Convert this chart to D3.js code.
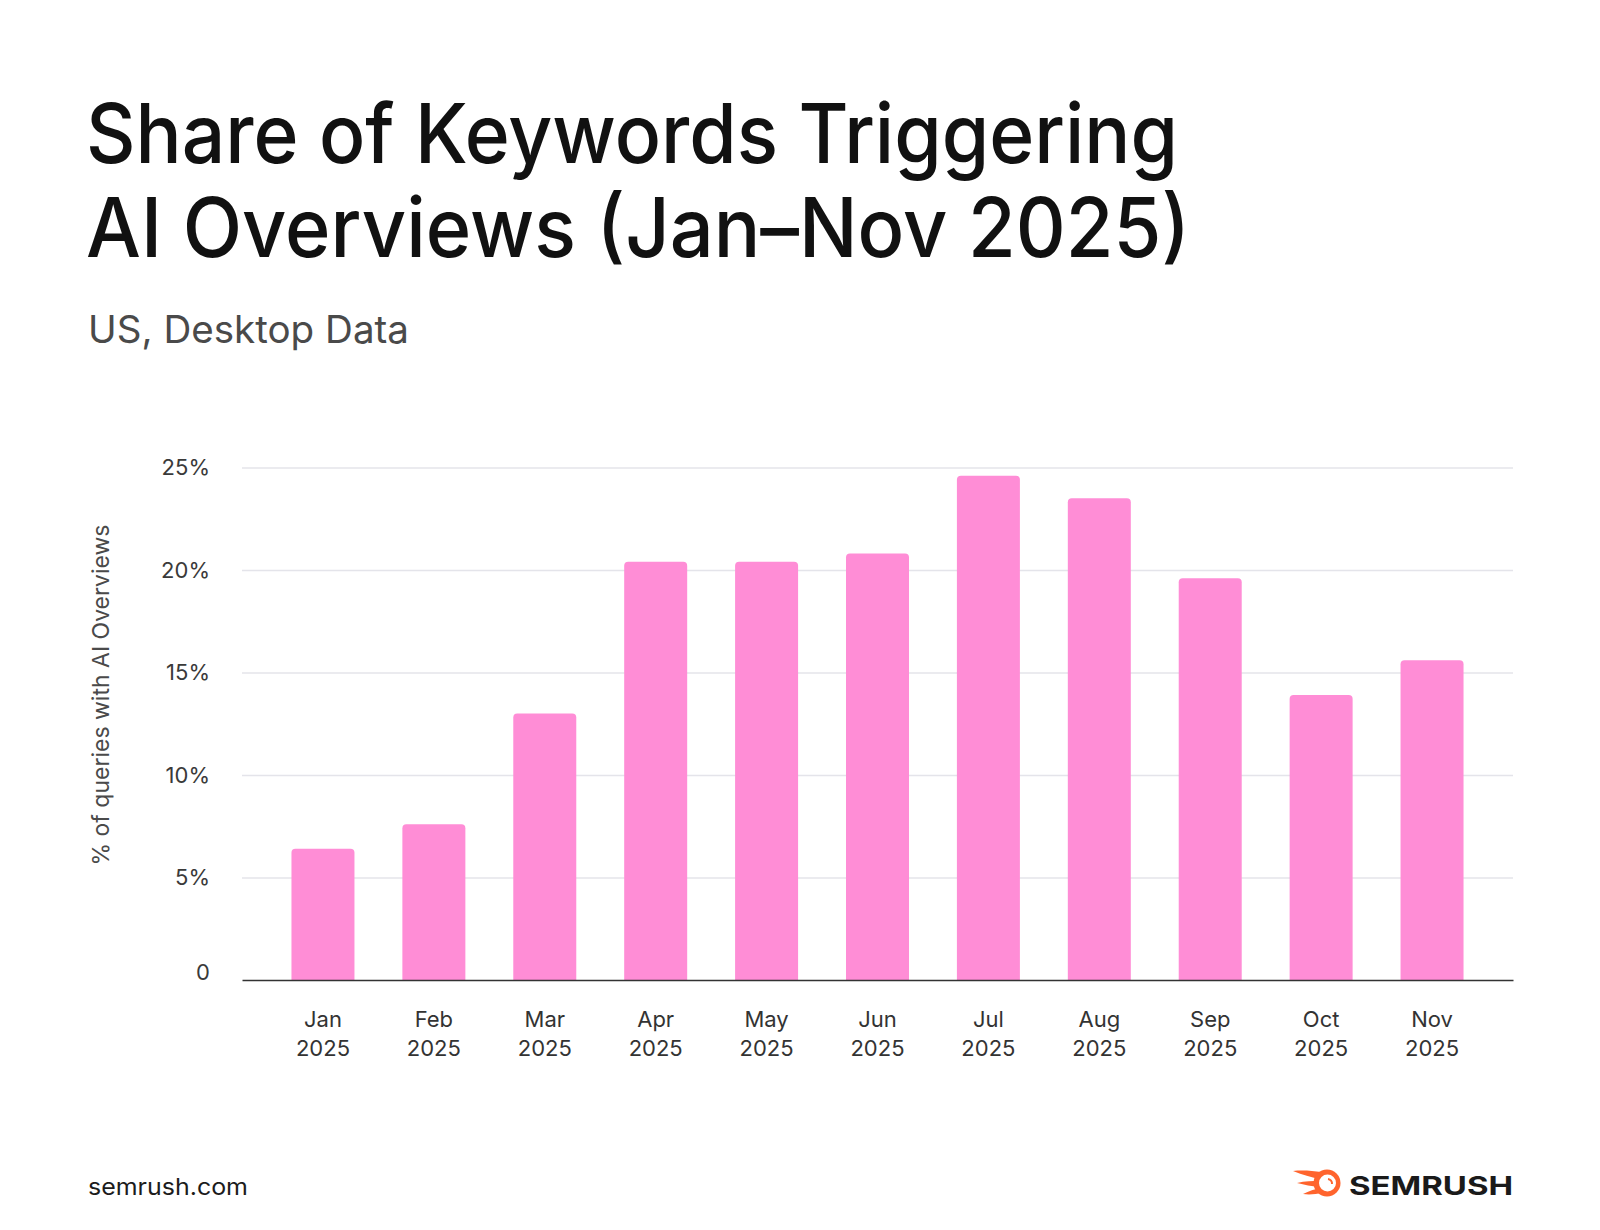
<!DOCTYPE html>
<html>
<head>
<meta charset="utf-8">
<script src="https://cdn.jsdelivr.net/npm/d3@7"></script>
<style>
  body { margin: 0; background: #fff; }
  svg { display: block; font-family: Inter, "Noto Sans", sans-serif; }
</style>
</head>
<body>
<svg id="chart"></svg>
<script>
// data
var months = ["Jan", "Feb", "Mar", "Apr", "May", "Jun", "Jul", "Aug", "Sep", "Oct", "Nov"];
var year = "2025";
var shares = [6.4, 7.6, 13.0, 20.4, 20.4, 20.8, 24.6, 23.5, 19.6, 13.9, 15.6];
var yTicks = [0, 5, 10, 15, 20, 25];

var svgWidth = 1600, svgHeight = 1230;
var plotLeft = 242, plotRight = 1513, plotTop = 467.5, plotBottom = 980;

var svg = d3.select('#chart').attr('width', svgWidth).attr('height', svgHeight);

// titles
svg.append('text').attr('x', 86).attr('y', 163)
    .attr('font-size', 82).attr('font-weight', 500).attr('fill', '#111')
    .attr('textLength', 1092).attr('lengthAdjust', 'spacingAndGlyphs')
    .text('Share of Keywords Triggering');
svg.append('text').attr('x', 86).attr('y', 257)
    .attr('font-size', 82).attr('font-weight', 500).attr('fill', '#111')
    .attr('textLength', 1104).attr('lengthAdjust', 'spacingAndGlyphs')
    .text('AI Overviews (Jan–Nov 2025)');
svg.append('text').attr('x', 88).attr('y', 343)
    .attr('font-size', 38).attr('fill', '#4a4a4a')
    .attr('textLength', 321).attr('lengthAdjust', 'spacingAndGlyphs')
    .text('US, Desktop Data');

var xScale = d3.scaleBand().domain(months).range([plotLeft, plotRight])
    .paddingInner(0.432).paddingOuter(0.446);
var yScale = d3.scaleLinear().domain([0, 25]).range([plotBottom, plotTop]);

// gridlines
svg.append('g')
    .attr('transform', 'translate(' + plotLeft + ',0)')
    .call(d3.axisLeft(yScale).tickValues(yTicks.slice(1)).tickSize(-(plotRight - plotLeft)).tickFormat(''))
    .call(function (g) {
        g.select('.domain').remove();
        g.selectAll('line').attr('stroke', '#e4e4ea').attr('stroke-width', 1.5);
    });

// y axis labels
svg.append('g')
    .attr('transform', 'translate(' + plotLeft + ',0)')
    .call(d3.axisLeft(yScale).tickValues(yTicks).tickSize(0).tickPadding(32)
        .tickFormat(function (d) { return d === 0 ? '0' : d + '%'; }))
    .call(function (g) {
        g.select('.domain').remove();
        g.selectAll('text').attr('font-size', 22).attr('fill', '#3a3a3a')
            .attr('font-family', 'Inter, sans-serif')
            .attr('dy', function (d) { return d === 0 ? '-0.02em' : '0.32em'; });
    });

svg.append('text')
    .attr('transform', 'translate(109,695) rotate(-90)')
    .attr('text-anchor', 'middle').attr('font-size', 23).attr('fill', '#4a4a4a')
    .text('% of queries with AI Overviews');

// bars with rounded tops
var r = 4;
svg.append('g').selectAll('path')
    .data(shares)
    .enter()
    .append('path')
    .attr('fill', '#ff8dd6')
    .attr('d', function (d, i) {
        var x0 = xScale(months[i]), w = xScale.bandwidth();
        var y0 = yScale(d), y1 = yScale(0);
        return 'M' + x0 + ',' + y1 + 'V' + (y0 + r) +
            'Q' + x0 + ',' + y0 + ' ' + (x0 + r) + ',' + y0 +
            'H' + (x0 + w - r) +
            'Q' + (x0 + w) + ',' + y0 + ' ' + (x0 + w) + ',' + (y0 + r) +
            'V' + y1 + 'Z';
    });

// x axis
svg.append('g')
    .attr('transform', 'translate(0,' + plotBottom + ')')
    .call(d3.axisBottom(xScale).tickSize(0).tickFormat(''))
    .call(function (g) {
        g.select('.domain').attr('stroke', '#333').attr('stroke-width', 1.5);
        g.selectAll('.tick text').each(function (d) {
            var t = d3.select(this).attr('y', 0).attr('dy', null)
                .attr('font-size', 22).attr('fill', '#333')
                .attr('font-family', 'Inter, sans-serif');
            t.append('tspan').attr('x', 0).attr('y', 47).text(d);
            t.append('tspan').attr('x', 0).attr('y', 76).text(year);
        });
    });

// footer
svg.append('text').attr('x', 88).attr('y', 1195)
    .attr('font-size', 23).attr('fill', '#1c1c1c')
    .attr('textLength', 160).attr('lengthAdjust', 'spacingAndGlyphs')
    .text('semrush.com');

var logo = svg.append('g').attr('transform', 'translate(1327,1183)');
logo.append('path').attr('fill', '#ff642d')
    .attr('d', 'M-34,-12 C-24,-13 -14,-12 -6,-11 L-8,-4 C-16,-6 -24,-8 -34,-12 Z' +
        'M-30,0 C-22,-2 -14,-2 -8,-2 L-8,4 C-16,3 -22,2 -30,0 Z' +
        'M-24,11 C-18,8 -12,6 -7,5 L-5,10 C-11,11 -17,12 -24,11 Z');
logo.append('circle').attr('r', 13.5).attr('fill', '#ff642d');
logo.append('circle').attr('r', 8.5).attr('cx', 0.5).attr('fill', '#fff');
logo.append('path').attr('fill', 'none').attr('stroke', '#ff642d').attr('stroke-width', 2)
    .attr('d', 'M1,-4 A4.5,4.5 0 0 1 5,1');
svg.append('text').attr('x', 1349).attr('y', 1195)
    .attr('font-size', 26).attr('font-weight', 700).attr('fill', '#1a1a1a')
    .attr('textLength', 164).attr('lengthAdjust', 'spacingAndGlyphs')
    .text('SEMRUSH');
</script>
</body>
</html>
